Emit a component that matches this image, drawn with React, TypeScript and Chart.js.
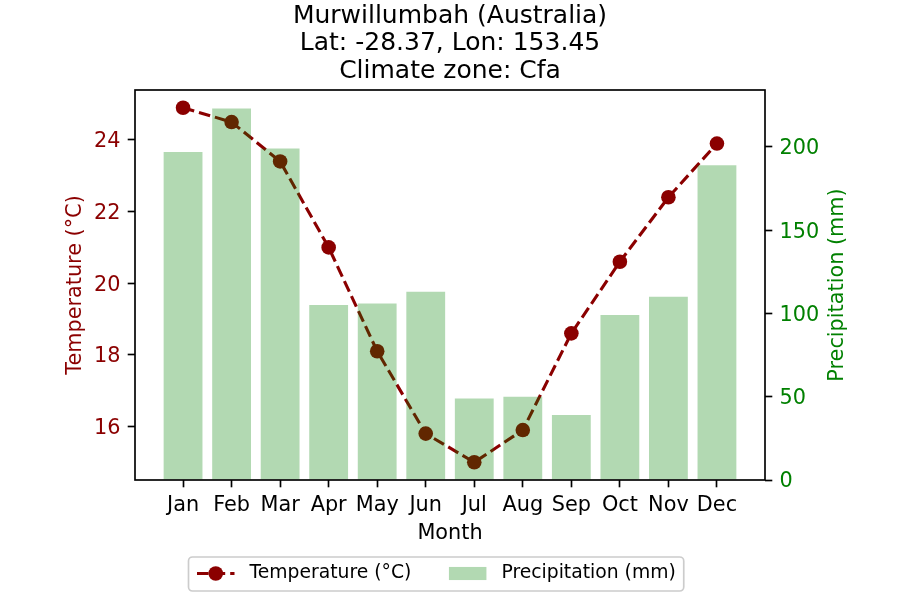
import React, { useEffect, useRef } from 'react';
import { Chart, registerables } from 'chart.js';

Chart.register(...registerables);

const months = ['Jan', 'Feb', 'Mar', 'Apr', 'May', 'Jun', 'Jul', 'Aug', 'Sep', 'Oct', 'Nov', 'Dec'];
const temperature = [24.9, 24.5, 23.4, 21.0, 18.1, 15.8, 15.0, 15.9, 18.6, 20.6, 22.4, 23.9];
const precipitation = [197, 223, 199, 105, 106, 113, 49, 50, 39, 99, 110, 189];
const tempTicks = [16, 18, 20, 22, 24];
const precipTicks = [0, 50, 100, 150, 200];
const titleLines = ['Murwillumbah (Australia)', 'Lat: -28.37, Lon: 153.45', 'Climate zone: Cfa'];
const tempLabel = 'Temperature (°C)';
const precipLabel = 'Precipitation (mm)';
const xLabel = 'Month';

const DARKRED = '#8b0000';
const GREEN = '#008000';
const BAR = 'rgba(0,128,0,0.3)';
const FONT = '"DejaVu Sans", sans-serif';

// matplotlib-like auto limits
const tMin = Math.min(...temperature);
const tMax = Math.max(...temperature);
const tRange = tMax - tMin;
const yMin = tMin - 0.05 * tRange;
const yMax = tMax + 0.05 * tRange;
const y1Max = Math.max(...precipitation) * 1.05;
const xSpan = months.length - 1 + 0.8;
const xMin = -0.4 - 0.05 * xSpan;
const xMax = months.length - 1 + 0.4 + 0.05 * xSpan;

const framePlugin = {
  id: 'frame',
  afterDraw(chart: any) {
    const { ctx, chartArea } = chart;
    ctx.save();
    ctx.strokeStyle = '#000';
    ctx.lineWidth = 1.67;
    ctx.strokeRect(chartArea.left, chartArea.top, chartArea.right - chartArea.left, chartArea.bottom - chartArea.top);
    ctx.restore();
  },
};

const rightTitlePlugin = {
  id: 'rightTitle',
  afterDraw(chart: any) {
    const { ctx, chartArea } = chart;
    ctx.save();
    ctx.translate(838, (chartArea.top + chartArea.bottom) / 2);
    ctx.rotate(-Math.PI / 2);
    ctx.font = `20.8px ${FONT}`;
    ctx.fillStyle = GREEN;
    ctx.textAlign = 'center';
    ctx.textBaseline = 'middle';
    ctx.fillText(precipLabel, 0, 0);
    ctx.restore();
  },
};

const legendPlugin = {
  id: 'mplLegend',
  afterDraw(chart: any) {
    const { ctx } = chart;
    const fs = 18.75;
    const ds0 = chart.data.datasets[0];
    const ds1 = chart.data.datasets[1];
    ctx.save();
    ctx.font = `${fs}px ${FONT}`;
    const t1w = ctx.measureText(ds0.label).width;
    const t2w = ctx.measureText(ds1.label).width;
    const left = 188.5;
    const top = 557;
    const h = 34;
    const cy = 573.5;
    const hl = 37.5;
    const h1x = 197;
    const t1x = h1x + hl + 15;
    const h2x = t1x + t1w + 37.6;
    const t2x = h2x + hl + 15;
    const right = t2x + t2w + 8;
    ctx.beginPath();
    (ctx as any).roundRect(left, top, right - left, h, 4);
    ctx.fillStyle = 'rgba(255,255,255,0.8)';
    ctx.fill();
    ctx.strokeStyle = '#cccccc';
    ctx.lineWidth = 1.67;
    ctx.stroke();

    ctx.beginPath();
    ctx.setLineDash([11.6, 5]);
    ctx.moveTo(h1x, cy);
    ctx.lineTo(h1x + hl, cy);
    ctx.strokeStyle = ds0.borderColor;
    ctx.lineWidth = 3.1;
    ctx.stroke();
    ctx.setLineDash([]);
    ctx.beginPath();
    ctx.arc(h1x + hl / 2, cy, 7.3, 0, Math.PI * 2);
    ctx.fillStyle = ds0.borderColor;
    ctx.fill();

    ctx.fillStyle = ds1.backgroundColor;
    ctx.fillRect(h2x, cy - 6.55, hl, 13.1);

    ctx.fillStyle = '#000';
    ctx.textAlign = 'left';
    ctx.textBaseline = 'middle';
    ctx.fillText(ds0.label, t1x, cy);
    ctx.fillText(ds1.label, t2x, cy);
    ctx.restore();
  },
};

export default function App() {
  const ref = useRef<HTMLCanvasElement | null>(null);

  useEffect(() => {
    if (!ref.current) return;
    Chart.defaults.font.family = FONT;
    const tickGrid = {
      display: true,
      drawOnChartArea: false,
      drawTicks: true,
      offset: false,
      tickLength: 7.3,
      tickWidth: 1.67,
      tickColor: '#000',
    };
    const chart = new Chart(ref.current, {
      type: 'bar',
      data: {
        datasets: [
          {
            type: 'line',
            label: tempLabel,
            data: months.map((_, i) => ({ x: i, y: temperature[i] })),
            yAxisID: 'y',
            xAxisID: 'x',
            borderColor: DARKRED,
            backgroundColor: DARKRED,
            borderWidth: 3.1,
            borderDash: [11.6, 5],
            pointRadius: 7.3,
            pointHoverRadius: 7.3,
            pointBackgroundColor: DARKRED,
            pointBorderWidth: 0,
            tension: 0,
            fill: false,
            order: 1,
          } as any,
          {
            type: 'bar',
            label: precipLabel,
            data: months.map((_, i) => ({ x: i, y: precipitation[i] })),
            yAxisID: 'y1',
            xAxisID: 'x',
            backgroundColor: BAR,
            borderWidth: 0,
            barPercentage: 0.8,
            categoryPercentage: 1.0,
            order: 0,
          } as any,
        ],
      },
      options: {
        responsive: false,
        animation: false,
        layout: { padding: 0 },
        events: [],
        plugins: {
          legend: { display: false },
          tooltip: { enabled: false },
          title: {
            display: true,
            text: titleLines,
            color: '#000',
            font: { size: 25, weight: 'normal', lineHeight: 27.5 / 25 },
            padding: { top: 2.6, bottom: 4.9 },
          },
        },
        scales: {
          x: {
            type: 'linear',
            position: 'bottom',
            min: xMin,
            max: xMax,
            offset: false,
            grid: tickGrid,
            border: { display: false },
            ticks: {
              color: '#000',
              font: { size: 20.8 },
              padding: 5.5,
              maxRotation: 0,
              autoSkip: false,
              callback: (v: any) => months[Math.round(Number(v))] ?? '',
            },
            afterBuildTicks: (s: any) => {
              s.ticks = months.map((_, i) => ({ value: i }));
            },
            afterFit: (s: any) => {
              s.height = 120;
            },
            title: {
              display: true,
              text: xLabel,
              color: '#000',
              font: { size: 20.8 },
              padding: { top: 0, bottom: 53.5 },
            },
          },
          y: {
            type: 'linear',
            position: 'left',
            min: yMin,
            max: yMax,
            beginAtZero: false,
            grid: tickGrid,
            border: { display: false },
            ticks: {
              color: DARKRED,
              font: { size: 20.8 },
              padding: 7.3,
              labelOffset: 2,
              callback: (v: any) => String(v),
            },
            afterBuildTicks: (s: any) => {
              s.ticks = tempTicks.map((v) => ({ value: v }));
            },
            afterFit: (s: any) => {
              s.width = 135;
            },
            title: {
              display: true,
              text: tempLabel,
              color: DARKRED,
              font: { size: 20.8 },
              padding: { top: 63.5, bottom: 0 },
            },
          },
          y1: {
            type: 'linear',
            position: 'right',
            min: 0,
            max: y1Max,
            grid: tickGrid,
            border: { display: false },
            ticks: {
              color: GREEN,
              font: { size: 20.8 },
              padding: 7.3,
              labelOffset: 2,
              callback: (v: any) => String(v),
            },
            afterBuildTicks: (s: any) => {
              s.ticks = precipTicks.map((v) => ({ value: v }));
            },
            afterFit: (s: any) => {
              s.width = 135;
            },
            title: { display: false },
          },
        },
      } as any,
      plugins: [framePlugin, rightTitlePlugin, legendPlugin],
    });
    return () => chart.destroy();
  }, []);

  return (
    <div style={{ position: 'absolute', left: 0, top: 0, width: 900, height: 600, background: '#fff' }}>
      <canvas ref={ref} width={900} height={600} style={{ display: 'block' }} />
    </div>
  );
}
